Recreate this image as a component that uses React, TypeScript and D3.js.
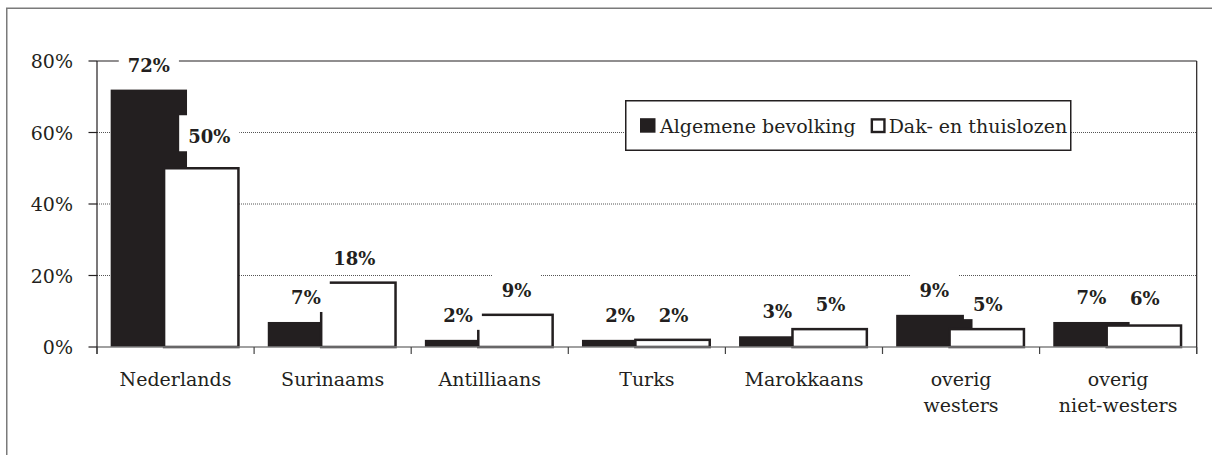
import React, { useEffect, useRef } from "react";
import * as d3 from "d3";

const categories = [
  "Nederlands",
  "Surinaams",
  "Antilliaans",
  "Turks",
  "Marokkaans",
  "overig\nwesters",
  "overig\nniet-westers",
];
const algemeneBevolking = [72, 7, 2, 2, 3, 9, 7];
const dakThuislozen = [50, 18, 9, 2, 5, 5, 6];
const seriesNames = ["Algemene bevolking", "Dak- en thuislozen"];
const yTicks = [0, 20, 40, 60, 80];

// manual label nudges seen in the reference: [series, categoryIndex, dx, dy]
const labelNudges: [number, number, number, number][] = [
  [1, 0, 7, -7],
  [1, 1, -5, 0],
  [0, 2, -5, 0],
  [1, 6, 0, -3],
];

const W = 1212;
const H = 455;
const FONT = "'DejaVu Serif', 'Liberation Serif', serif";
const INK = "#231f20";

export default function App() {
  const ref = useRef<SVGSVGElement | null>(null);

  useEffect(() => {
    const svg = d3.select(ref.current);
    svg.selectAll("*").remove();

    const left = 97,
      right = 1196.7,
      top = 61,
      bottom = 347;

    const x = d3.scaleBand<string>().domain(categories).range([left, right]).paddingInner(0).paddingOuter(0);
    const y = d3.scaleLinear().domain([0, 80]).range([bottom, top]);
    const bw = x.bandwidth();
    const barW = bw * 0.486;
    const offA = bw * 0.087;
    const offB = bw * 0.427;

    // outer frame
    svg
      .append("rect")
      .attr("x", 6.75)
      .attr("y", 8.25)
      .attr("width", W + 20)
      .attr("height", H + 20)
      .attr("fill", "none")
      .attr("stroke", "#7a7a7a")
      .attr("stroke-width", 1.5);

    // gridlines (dotted)
    svg
      .append("g")
      .selectAll("line")
      .data(yTicks.filter((t) => t > 0 && t < 80))
      .join("line")
      .attr("x1", left)
      .attr("x2", right)
      .attr("y1", (d) => y(d))
      .attr("y2", (d) => y(d))
      .attr("stroke", "#555")
      .attr("stroke-width", 1)
      .attr("stroke-dasharray", "1,1");

    // legend
    const lg = svg.append("g").attr("font-family", FONT).attr("font-size", 19).attr("fill", INK);
    lg.append("rect")
      .attr("x", 625.75)
      .attr("y", 100.75)
      .attr("width", 445)
      .attr("height", 49.5)
      .attr("fill", "#fff")
      .attr("stroke", INK)
      .attr("stroke-width", 1.5);
    lg.append("rect").attr("x", 640).attr("y", 118.2).attr("width", 15.5).attr("height", 14.5).attr("fill", INK);
    const t1 = lg.append("text").attr("x", 660).attr("y", 132.5).text(seriesNames[0]);
    const w1 = (t1.node() as SVGTextElement).getComputedTextLength();
    const x2 = 660 + w1 + 15;
    lg.append("rect")
      .attr("x", x2 + 1.2)
      .attr("y", 119.4)
      .attr("width", 12.6)
      .attr("height", 12.6)
      .attr("fill", "#fff")
      .attr("stroke", INK)
      .attr("stroke-width", 2.4);
    lg.append("text").attr("x", x2 + 18).attr("y", 132.5).text(seriesNames[1]);

    // bars: general population (black)
    svg
      .append("g")
      .selectAll("rect")
      .data(algemeneBevolking)
      .join("rect")
      .attr("x", (_d, i) => (x(categories[i]) as number) + offA)
      .attr("y", (d) => y(d))
      .attr("width", barW)
      .attr("height", (d) => y(0) - y(d))
      .attr("fill", INK);

    // bars: homeless (white, outlined)
    svg
      .append("g")
      .selectAll("rect")
      .data(dakThuislozen)
      .join("rect")
      .attr("x", (_d, i) => (x(categories[i]) as number) + offB)
      .attr("y", (d) => y(d))
      .attr("width", barW - 2)
      .attr("height", (d) => y(0) - y(d))
      .attr("fill", "#fff")
      .attr("stroke", INK)
      .attr("stroke-width", 2.5);

    // x axis line
    svg
      .append("line")
      .attr("x1", left)
      .attr("x2", right)
      .attr("y1", y(0))
      .attr("y2", y(0))
      .attr("stroke", "#808080")
      .attr("stroke-width", 1.3);

    // plot borders: top (80%), left (y axis), right
    svg
      .append("line")
      .attr("x1", left)
      .attr("x2", right)
      .attr("y1", y(80))
      .attr("y2", y(80))
      .attr("stroke", INK)
      .attr("stroke-width", 1.2);
    svg
      .append("line")
      .attr("x1", left)
      .attr("x2", left)
      .attr("y1", y(80))
      .attr("y2", y(0) + 7)
      .attr("stroke", INK)
      .attr("stroke-width", 1.2);
    svg
      .append("line")
      .attr("x1", right)
      .attr("x2", right)
      .attr("y1", y(80))
      .attr("y2", y(0) + 7)
      .attr("stroke", INK)
      .attr("stroke-width", 1.2);

    // y ticks
    const yg = svg.append("g");
    yg.selectAll("line")
      .data(yTicks)
      .join("line")
      .attr("x1", left - 8.5)
      .attr("x2", left)
      .attr("y1", (d) => y(d))
      .attr("y2", (d) => y(d))
      .attr("stroke", INK)
      .attr("stroke-width", 1.2);
    yg.selectAll("text")
      .data(yTicks)
      .join("text")
      .attr("x", 73)
      .attr("y", (d) => y(d) + 7)
      .attr("text-anchor", "end")
      .attr("font-family", FONT)
      .attr("font-size", 19)
      .attr("fill", INK)
      .text((d) => `${d}%`);

    // x ticks at category boundaries
    const bounds = categories.map((c) => x(c) as number).concat([right]);
    svg
      .append("g")
      .selectAll("line")
      .data(bounds)
      .join("line")
      .attr("x1", (d) => d)
      .attr("x2", (d) => d)
      .attr("y1", y(0))
      .attr("y2", y(0) + 7)
      .attr("stroke", "#444")
      .attr("stroke-width", 1.2);

    // category labels
    const cg = svg.append("g").attr("font-family", FONT).attr("font-size", 19).attr("fill", INK).attr("text-anchor", "middle");
    categories.forEach((c) => {
      const cx = (x(c) as number) + bw / 2;
      c.split("\n").forEach((line, li) => {
        cg.append("text")
          .attr("x", cx)
          .attr("y", 385.5 + li * 26.5)
          .text(line);
      });
    });

    // data labels with white backgrounds
    const labG = svg.append("g").attr("font-family", FONT).attr("font-size", 18).attr("font-weight", "bold").attr("fill", INK);
    const series = [algemeneBevolking, dakThuislozen];
    series.forEach((vals, si) => {
      vals.forEach((v, i) => {
        const off = si === 0 ? offA : offB;
        let cx = (x(categories[i]) as number) + off + barW / 2;
        let base = y(v) - 18;
        const n = labelNudges.find((k) => k[0] === si && k[1] === i);
        if (n) {
          cx += n[2];
          base += n[3];
        }
        const g = labG.append("g");
        const bg = g.append("rect");
        const t = g.append("text").attr("x", cx).attr("y", base).attr("text-anchor", "middle").text(`${v}%`);
        const tw = (t.node() as SVGTextElement).getComputedTextLength();
        bg.attr("x", cx - tw / 2 - 9)
          .attr("y", base - 28)
          .attr("width", tw + 18)
          .attr("height", 36)
          .attr("fill", "#fff");
      });
    });
  }, []);

  return (
    <svg
      ref={ref}
      width={W}
      height={H}
      style={{ position: "absolute", left: 0, top: 0, background: "#fff" }}
    />
  );
}
